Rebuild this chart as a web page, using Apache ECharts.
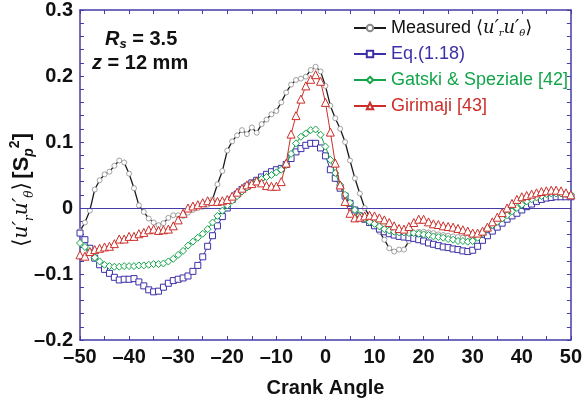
<!DOCTYPE html>
<html>
<head>
<meta charset="utf-8">
<script src="https://cdn.jsdelivr.net/npm/echarts@6/dist/echarts.min.js"></script>
<style>
html,body{margin:0;padding:0;background:#fff;}
#chart{width:585px;height:403px;}
</style>
</head>
<body>
<div id="chart"></div>
<script>
// Crank angle (degrees)
const crankAngle = [-50,-49,-48,-47,-46,-45,-44,-43,-42,-41,-40,-39,-38,-37,-36,-35,-34,-33,-32,-31,-30,-29,-28,-27,-26,-25,-24,-23,-22,-21,-20,-19,-18,-17,-16,-15,-14,-13,-12,-11,-10,-9,-8,-7,-6,-5,-4,-3,-2,-1,0,1,2,3,4,5,6,7,8,9,10,11,12,13,14,15,16,17,18,19,20,21,22,23,24,25,26,27,28,29,30,31,32,33,34,35,36,37,38,39,40,41,42,43,44,45,46,47,48,49,50];

const measured = [-0.035,-0.022,-0.004,0.028,0.042,0.051,0.055,0.064,0.072,0.069,0.052,0.030,0.004,-0.006,-0.016,-0.022,-0.026,-0.023,-0.015,-0.011,-0.011,-0.012,-0.007,-0.003,0.000,0.002,0.005,0.013,0.036,0.056,0.087,0.101,0.110,0.118,0.112,0.122,0.114,0.127,0.134,0.142,0.147,0.160,0.175,0.187,0.194,0.196,0.199,0.209,0.214,0.207,0.185,0.155,0.136,0.120,0.100,0.072,0.045,0.022,0.000,-0.013,-0.026,-0.036,-0.048,-0.061,-0.066,-0.063,-0.063,-0.050,-0.040,-0.036,-0.036,-0.037,-0.038,-0.040,-0.041,-0.042,-0.043,-0.044,-0.045,-0.045,-0.044,-0.041,-0.036,-0.030,-0.024,-0.017,-0.011,-0.005,0.000,0.005,0.009,0.012,0.015,0.018,0.020,0.021,0.022,0.022,0.021,0.020,0.019];

const eq118 = [-0.038,-0.048,-0.061,-0.076,-0.086,-0.093,-0.099,-0.105,-0.109,-0.108,-0.108,-0.107,-0.112,-0.118,-0.124,-0.127,-0.126,-0.120,-0.114,-0.110,-0.108,-0.106,-0.103,-0.096,-0.087,-0.074,-0.058,-0.042,-0.027,-0.013,0.000,0.013,0.021,0.028,0.033,0.038,0.042,0.047,0.051,0.055,0.058,0.060,0.066,0.075,0.085,0.090,0.095,0.098,0.098,0.091,0.079,0.058,0.045,0.030,0.018,0.007,-0.003,-0.012,-0.017,-0.022,-0.027,-0.032,-0.036,-0.039,-0.041,-0.043,-0.044,-0.045,-0.046,-0.048,-0.050,-0.053,-0.055,-0.057,-0.059,-0.060,-0.062,-0.063,-0.065,-0.066,-0.064,-0.058,-0.049,-0.042,-0.035,-0.029,-0.023,-0.017,-0.012,-0.008,-0.003,0.002,0.006,0.010,0.013,0.015,0.016,0.017,0.017,0.017,0.017];

const gatski = [-0.053,-0.059,-0.066,-0.075,-0.081,-0.086,-0.088,-0.089,-0.089,-0.088,-0.088,-0.088,-0.087,-0.087,-0.086,-0.085,-0.085,-0.084,-0.081,-0.077,-0.071,-0.065,-0.057,-0.051,-0.045,-0.039,-0.032,-0.022,-0.012,-0.004,0.004,0.011,0.018,0.025,0.031,0.036,0.041,0.044,0.047,0.050,0.054,0.058,0.065,0.082,0.098,0.108,0.113,0.118,0.119,0.111,0.093,0.073,0.053,0.035,0.020,0.008,-0.003,-0.011,-0.016,-0.021,-0.024,-0.028,-0.032,-0.034,-0.036,-0.037,-0.037,-0.038,-0.038,-0.039,-0.040,-0.041,-0.043,-0.044,-0.045,-0.047,-0.048,-0.050,-0.050,-0.051,-0.050,-0.045,-0.038,-0.032,-0.026,-0.021,-0.016,-0.011,-0.005,0.000,0.005,0.010,0.013,0.016,0.018,0.021,0.022,0.022,0.022,0.021,0.020];

const girimaji = [-0.071,-0.073,-0.066,-0.063,-0.061,-0.059,-0.058,-0.054,-0.047,-0.047,-0.043,-0.043,-0.039,-0.037,-0.033,-0.032,-0.034,-0.033,-0.032,-0.027,-0.018,-0.008,0.000,0.003,0.005,0.008,0.011,0.010,0.010,0.011,0.013,0.018,0.024,0.030,0.035,0.037,0.041,0.038,0.034,0.033,0.033,0.040,0.068,0.112,0.140,0.165,0.185,0.195,0.202,0.192,0.160,0.115,0.068,0.035,0.010,-0.008,-0.015,-0.014,-0.012,-0.011,-0.012,-0.015,-0.018,-0.022,-0.027,-0.031,-0.032,-0.028,-0.022,-0.017,-0.017,-0.021,-0.024,-0.025,-0.027,-0.028,-0.029,-0.031,-0.033,-0.035,-0.038,-0.038,-0.035,-0.029,-0.021,-0.014,-0.007,0.000,0.007,0.013,0.017,0.019,0.021,0.023,0.025,0.026,0.027,0.027,0.026,0.023,0.020];

const seriesNames = ['Measured', 'Eq.(1.18)', 'Gatski & Speziale [42]', 'Girimaji [43]'];

const AX = '#463ca8';
const BLACK = '#1a1a1a', BLUE = '#3c30a8', GREEN = '#13a54a', RED = '#cc2f2a';
const SANS = 'Liberation Sans, Arial, sans-serif';
const SERIF = 'DejaVu Serif, Liberation Serif, serif';

function pairs(vals){ return crankAngle.map((a,i)=>[a, vals[i]]); }
function fmt(v, d){ if (Math.abs(v) < 1e-9) return '0'; return (v<0?'\u2013':'') + Math.abs(v).toFixed(d); }

const chart = echarts.init(document.getElementById('chart'), null, {renderer:'canvas'});

const tickCommon = {show:true, inside:true, length:4, lineStyle:{color:AX, width:1}};
const lineCommon = {show:true, onZero:false, lineStyle:{color:AX, width:1.5}};

const option = {
  animation:false,
  backgroundColor:'#fff',
  grid:{left:80, right:8, top:10, bottom:63},
  xAxis:[{
    type:'value', min:-50, max:50, interval:10, position:'bottom',
    axisLine:lineCommon, axisTick:tickCommon,
    minorTick:{show:true, splitNumber:2, length:4, lineStyle:{color:AX, width:1}},
    splitLine:{show:false},
    axisLabel:{show:true, margin:7, color:'#111', fontFamily:SANS, fontWeight:'bold', fontSize:20,
      formatter:v=>fmt(v,0)},
    name:'Crank Angle', nameLocation:'middle', nameGap:38,
    nameTextStyle:{color:'#111', fontFamily:SANS, fontWeight:'bold', fontSize:20}
  },{
    type:'value', min:-50, max:50, interval:10, position:'top',
    axisLine:lineCommon, axisTick:tickCommon,
    minorTick:{show:true, splitNumber:2, length:4, lineStyle:{color:AX, width:1}},
    splitLine:{show:false}, axisLabel:{show:false}
  }],
  yAxis:[{
    type:'value', min:-0.2, max:0.3, interval:0.1, position:'left',
    axisLine:lineCommon, axisTick:tickCommon,
    minorTick:{show:true, splitNumber:5, length:4, lineStyle:{color:AX, width:1}},
    splitLine:{show:false},
    axisLabel:{show:true, margin:7, color:'#111', fontFamily:SANS, fontWeight:'bold', fontSize:20,
      formatter:v=>fmt(v,1)}
  },{
    type:'value', min:-0.2, max:0.3, interval:0.1, position:'right',
    axisLine:lineCommon, axisTick:tickCommon,
    minorTick:{show:true, splitNumber:5, length:4, lineStyle:{color:AX, width:1}},
    splitLine:{show:false}, axisLabel:{show:false}
  }],
  legend:{
    orient:'vertical', left:348, top:13, itemWidth:32, itemHeight:8, itemGap:6,
    textStyle:{fontFamily:SANS, fontSize:18, lineHeight:20, rich:{
      a:{fontFamily:SERIF, fontSize:18, color:'#111'},
      u:{fontFamily:SERIF, fontStyle:'italic', fontSize:18, color:'#111'},
      s:{fontFamily:SERIF, fontStyle:'italic', fontSize:10, color:'#111', verticalAlign:'bottom', lineHeight:12}
    }},
    data:[
      {name:seriesNames[0], textStyle:{color:'#111'}},
      {name:seriesNames[1], textStyle:{color:BLUE}},
      {name:seriesNames[2], textStyle:{color:GREEN}},
      {name:seriesNames[3], textStyle:{color:RED}}
    ],
    formatter:function(name){
      if (name === seriesNames[0]) {
        return 'Measured {a|\u27E8}{u|u\u2032}{s|r}{u|u\u2032}{s|\u03B8}{a|\u27E9}';
      }
      return name;
    }
  },
  series:[
    {
      name:seriesNames[0], type:'line', data:pairs(measured),
      symbol:'circle', symbolSize:5, showSymbol:true,
      lineStyle:{color:BLACK, width:1.3},
      itemStyle:{color:'#fff', borderColor:'#8a8a8a', borderWidth:0.8},
      markLine:{silent:true, symbol:'none', label:{show:false},
        lineStyle:{color:AX, width:1.2, type:'solid'},
        data:[{yAxis:0}]},
      z:3
    },
    {
      name:seriesNames[1], type:'line', data:pairs(eq118),
      symbol:'rect', symbolSize:6,
      lineStyle:{color:BLUE, width:1},
      itemStyle:{color:'#fff', borderColor:BLUE, borderWidth:1},
      z:4
    },
    {
      name:seriesNames[2], type:'line', data:pairs(gatski),
      symbol:'diamond', symbolSize:7,
      lineStyle:{color:GREEN, width:1},
      itemStyle:{color:'#fff', borderColor:GREEN, borderWidth:1},
      z:5
    },
    {
      name:seriesNames[3], type:'line', data:pairs(girimaji),
      symbol:'triangle', symbolSize:8,
      lineStyle:{color:RED, width:1},
      itemStyle:{color:'#fff', borderColor:RED, borderWidth:1},
      z:6
    }
  ],
  graphic:[
    {type:'text', left:105, top:29, style:{
      text:'{r|R}{s|s}{n| = 3.5}',
      rich:{
        r:{fontFamily:SANS, fontWeight:'bold', fontStyle:'italic', fontSize:20, fill:'#111', lineHeight:24},
        s:{fontFamily:SANS, fontWeight:'bold', fontStyle:'italic', fontSize:13, fill:'#111', verticalAlign:'bottom', lineHeight:15},
        n:{fontFamily:SANS, fontWeight:'bold', fontSize:20, fill:'#111', lineHeight:24}
      }}},
    {type:'text', left:92, top:53, style:{
      text:'{z|z}{n| = 12 mm}',
      rich:{
        z:{fontFamily:SANS, fontWeight:'bold', fontStyle:'italic', fontSize:20, fill:'#111', lineHeight:24},
        n:{fontFamily:SANS, fontWeight:'bold', fontSize:20, fill:'#111', lineHeight:24}
      }}},
    {type:'text', x:22, y:190, rotation:Math.PI/2, style:{
      text:'{a|\u27E8}{u|u\u2032}{s|r}{u|u\u2032}{s|\u03B8}{a|\u27E9} {b|[S}{sb|p}{sp|2}{b|]}',
      align:'center', verticalAlign:'middle',
      rich:{
        a:{fontFamily:SERIF, fontSize:22, fill:'#111', lineHeight:28},
        u:{fontFamily:SERIF, fontStyle:'italic', fontSize:20, fill:'#111', lineHeight:28},
        s:{fontFamily:SERIF, fontStyle:'italic', fontSize:12, fill:'#111', verticalAlign:'bottom', lineHeight:16},
        b:{fontFamily:SANS, fontWeight:'bold', fontSize:22, fill:'#111', lineHeight:28},
        sb:{fontFamily:SANS, fontStyle:'italic', fontWeight:'bold', fontSize:14, fill:'#111', verticalAlign:'bottom', lineHeight:15},
        sp:{fontFamily:SANS, fontWeight:'bold', fontSize:14, fill:'#111', verticalAlign:'top', lineHeight:15}
      }}}
  ]
};
chart.setOption(option);
</script>
</body>
</html>
